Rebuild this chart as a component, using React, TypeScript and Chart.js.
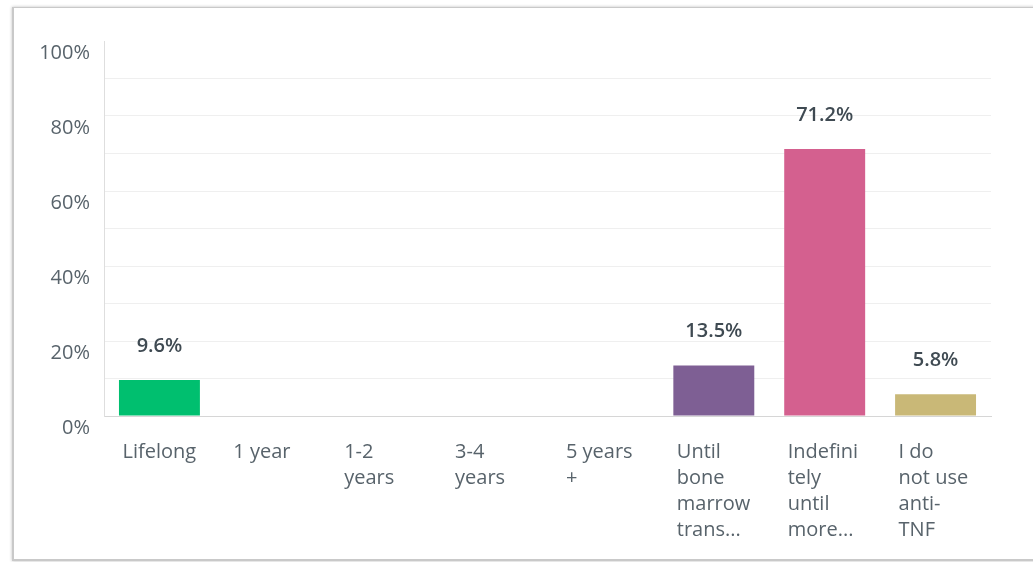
import React, { useEffect, useRef } from "react";
import { Chart, registerables } from "chart.js";

Chart.register(...registerables);

const categories: string[][] = [
  ["Lifelong"],
  ["1 year"],
  ["1-2", "years"],
  ["3-4", "years"],
  ["5 years", "+"],
  ["Until", "bone", "marrow", "trans..."],
  ["Indefini", "tely", "until", "more..."],
  ["I do", "not use", "anti-", "TNF"],
];
const values: number[] = [9.6, 0, 0, 0, 0, 13.5, 71.2, 5.8];
const barColors: string[] = [
  "#00BF6F",
  "#00BF6F",
  "#00BF6F",
  "#00BF6F",
  "#00BF6F",
  "#7E5F94",
  "#D4608F",
  "#C9B877",
];
const yTickValues: number[] = [0, 20, 40, 60, 80, 100];

const FONT = "'Open Sans', 'DejaVu Sans', sans-serif";

const valueLabelPlugin = {
  id: "valueLabels",
  afterDatasetsDraw(chart: any) {
    const { ctx } = chart;
    const meta = chart.getDatasetMeta(0);
    ctx.save();
    ctx.font = `600 20px ${FONT}`;
    ctx.fillStyle = "#3f4a52";
    ctx.textAlign = "center";
    ctx.textBaseline = "middle";
    meta.data.forEach((bar: any, i: number) => {
      const v = values[i];
      if (!v) return;
      ctx.fillText(`${v.toFixed(1)}%`, bar.x, bar.y - 34);
    });
    ctx.restore();
  },
};

export default function App() {
  const canvasRef = useRef<HTMLCanvasElement | null>(null);

  useEffect(() => {
    if (!canvasRef.current) return;
    const chart = new Chart(canvasRef.current, {
      type: "bar",
      data: {
        labels: categories,
        datasets: [
          {
            data: values,
            backgroundColor: barColors,
            borderWidth: 0,
            categoryPercentage: 1,
            barPercentage: 0.73,
          },
        ],
      },
      options: {
        animation: false,
        responsive: false,
        devicePixelRatio: 1,
        layout: { padding: { left: 0, right: 42, top: 41, bottom: 0 } },
        plugins: {
          legend: { display: false },
          tooltip: { enabled: false },
        },
        scales: {
          x: {
            grid: { display: false, drawTicks: false },
            border: { display: true, color: "#d6d6d6", width: 1 },
            ticks: {
              autoSkip: false,
              maxRotation: 0,
              minRotation: 0,
              align: "start",
              labelOffset: -37,
              padding: 23,
              color: "#58636b",
              font: { family: FONT, size: 20, lineHeight: "26px" },
            },
            afterFit: (s: any) => {
              s.height = 146;
            },
          },
          y: {
            min: 0,
            max: 100,
            ticks: {
              stepSize: 10,
              padding: 14,
              labelOffset: 12,
              color: "#58636b",
              font: { family: FONT, size: 20 },
              callback: (v: any) =>
                yTickValues.includes(Number(v)) ? `${v}%` : "",
            },
            grid: {
              drawTicks: false,
              color: (c: any) =>
                c.tick && (c.tick.value === 100 || c.tick.value === 0)
                  ? "rgba(0,0,0,0)"
                  : "#efefef",
              lineWidth: 1,
            },
            border: { display: true, color: "#dedede", width: 1 },
            afterFit: (s: any) => {
              s.width = 104;
            },
          },
        },
      },
      plugins: [valueLabelPlugin],
    });
    return () => chart.destroy();
  }, []);

  return (
    <div
      style={{
        position: "fixed",
        left: 0,
        top: 0,
        width: 1033,
        height: 562,
        background: "#ffffff",
        overflow: "hidden",
      }}
    >
      <div
        style={{
          position: "absolute",
          left: 12,
          top: 7,
          width: 1060,
          height: 551,
          border: "1px solid #c9c9c9",
          borderLeftWidth: 2,
          borderBottomWidth: 2,
          boxShadow: "0 0 3px rgba(0,0,0,0.25)",
          background: "#fff",
        }}
      />
      <canvas
        ref={canvasRef}
        width={1033}
        height={562}
        style={{ position: "absolute", left: 0, top: 0, width: 1033, height: 562 }}
      />
    </div>
  );
}
